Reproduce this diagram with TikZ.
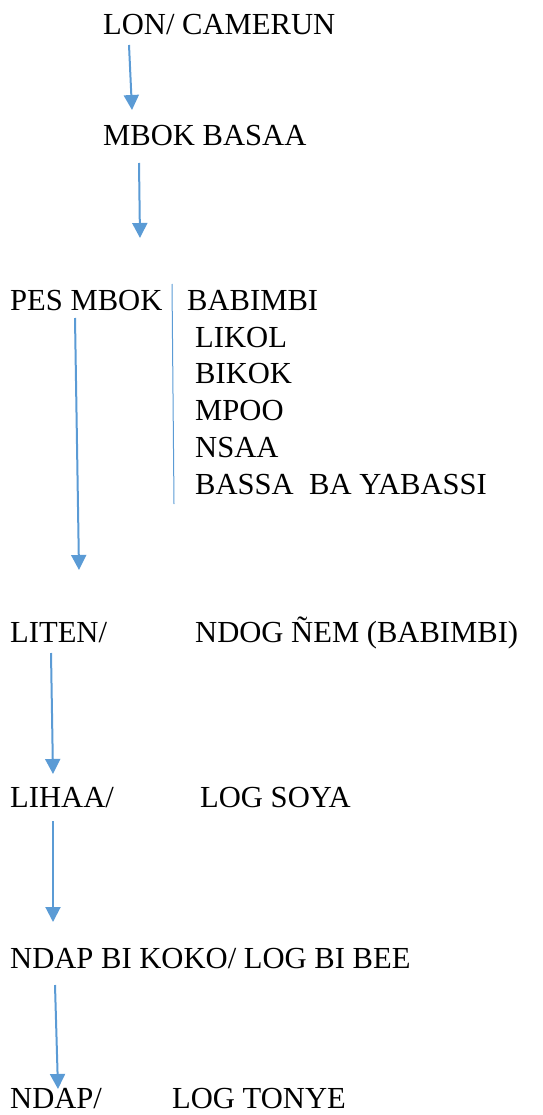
\documentclass[tikz,border=0pt]{standalone}
\usepackage{fontspec}
\setmainfont{Liberation Serif}
\usetikzlibrary{arrows.meta}
\definecolor{arrowblue}{HTML}{5B9BD5}
\begin{document}
\begin{tikzpicture}[x=1pt,y=-1pt,
  lbl/.style={anchor=base west,inner sep=0pt,font=\fontsize{30.6}{36}\selectfont},
  flow/.style={draw=arrowblue,line width=2pt,-{Triangle[width=15pt,length=15pt]}},
  divider/.style={draw=arrowblue,line width=1pt}]
\useasboundingbox (0,0) rectangle (542,1115);

% labels
\node[lbl] (lon)   at (103,35)   {LON/ CAMERUN};
\node[lbl] (mbok)  at (103,146)  {MBOK BASAA};
\node[lbl] (pes)   at (10,310)   {PES MBOK};
\node[lbl] (c1)    at (187,310)  {BABIMBI};
\node[lbl] (c2)    at (195,347)  {LIKOL};
\node[lbl] (c3)    at (195,383)  {BIKOK};
\node[lbl] (c4)    at (195,420)  {MPOO};
\node[lbl] (c5)    at (195,457)  {NSAA};
\node[lbl] (c6)    at (195,494)  {BASSA\ \ BA YABASSI};
\node[lbl] (liten) at (10,642)   {LITEN/};
\node[lbl] (ndog)  at (195,642)  {NDOG ÑEM (BABIMBI)};
\node[lbl] (lihaa) at (10,807)   {LIHAA/};
\node[lbl] (soya)  at (200,807)  {LOG SOYA};
\node[lbl] (koko)  at (10,968)   {NDAP BI KOKO/ LOG BI BEE};
\node[lbl] (ndap)  at (10,1108)  {NDAP/};
\node[lbl] (tonye) at (172,1108) {LOG TONYE};

% connector end points
\coordinate (a1s) at (129,45);   \coordinate (a1e) at (132,110);
\coordinate (a2s) at (139,163);  \coordinate (a2e) at (140,238);
\coordinate (a3s) at (75,318);   \coordinate (a3e) at (79,570);
\coordinate (a4s) at (51,653);   \coordinate (a4e) at (53,774);
\coordinate (a5s) at (53,821);   \coordinate (a5e) at (53,922);
\coordinate (a6s) at (55,985);   \coordinate (a6e) at (58,1089);
\coordinate (d1) at (172,284);   \coordinate (d2) at (174,504);

% connectors
\draw[flow] (a1s) -- (a1e);
\draw[flow] (a2s) -- (a2e);
\draw[flow] (a3s) -- (a3e);
\draw[flow] (a4s) -- (a4e);
\draw[flow] (a5s) -- (a5e);
\draw[flow] (a6s) -- (a6e);
\draw[divider] (d1) -- (d2);
\end{tikzpicture}
\end{document}
